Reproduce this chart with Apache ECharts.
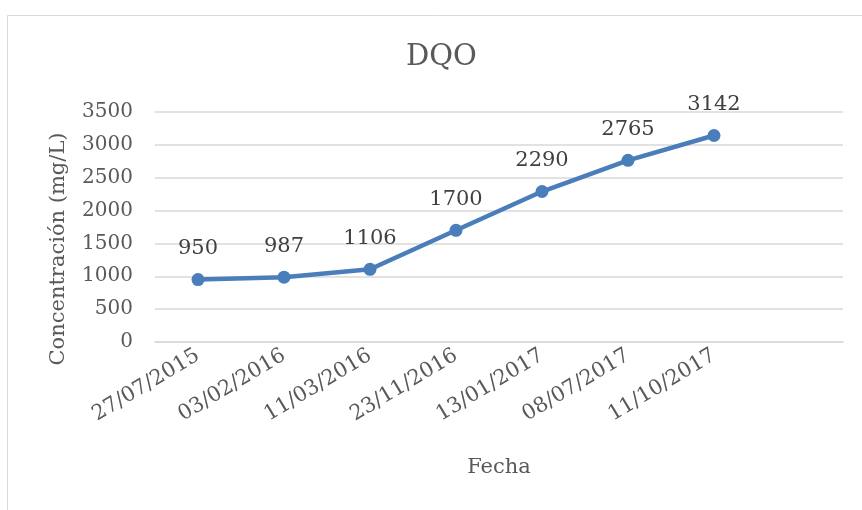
<!DOCTYPE html>
<html>
<head>
<meta charset="utf-8">
<script src="https://cdn.jsdelivr.net/npm/echarts@6/dist/echarts.min.js"></script>
<style>
  html, body { margin: 0; padding: 0; background: #fff; }
  #chart { width: 862px; height: 510px; }
</style>
</head>
<body>
<div id="chart"></div>
<script>
// fechas de muestreo (la última categoría queda vacía, como en el original)
const fechas = ['27/07/2015', '03/02/2016', '11/03/2016', '23/11/2016', '13/01/2017', '08/07/2017', '11/10/2017', '']
const dqo = [950, 987, 1106, 1700, 2290, 2765, 3142]
const yTicks = { min: 0, max: 3500, interval: 500 }

const fuente = 'DejaVu Serif'
const gris = '#595959'

const chart = echarts.init(document.getElementById('chart'))
chart.setOption({
  animation: false,
  title: {
    text: 'DQO',
    left: 401,
    top: 38,
    textStyle: { fontFamily: fuente, fontSize: 29, fontWeight: 'normal', color: gris }
  },
  graphic: [{
    type: 'rect',
    shape: { x: 7.5, y: 15.5, width: 900, height: 600 },
    style: { fill: 'none', stroke: '#d9d9d9', lineWidth: 1 }
  }],
  grid: { left: 155, right: 19, top: 112, bottom: 168 },
  xAxis: {
    type: 'category',
    data: fechas,
    name: 'Fecha',
    nameLocation: 'middle',
    nameGap: 115,
    nameTextStyle: { fontFamily: fuente, fontSize: 21, color: gris },
    axisLine: { lineStyle: { color: '#d9d9d9', width: 1.5 } },
    axisTick: { show: false },
    axisLabel: { rotate: 31, fontFamily: fuente, fontSize: 21, color: gris, margin: 12 }
  },
  yAxis: {
    type: 'value',
    min: yTicks.min,
    max: yTicks.max,
    interval: yTicks.interval,
    name: 'Concentración (mg/L)',
    nameLocation: 'middle',
    nameGap: 86,
    nameTextStyle: { fontFamily: fuente, fontSize: 21, color: gris, padding: [0, 44, 0, 0] },
    axisLine: { show: false },
    axisTick: { show: false },
    axisLabel: { fontFamily: fuente, fontSize: 20, color: gris, margin: 22, formatter: v => String(v) },
    splitLine: { lineStyle: { color: '#d9d9d9', width: 1.5 } }
  },
  series: [{
    type: 'line',
    data: dqo,
    symbol: 'circle',
    symbolSize: 13,
    itemStyle: { color: '#4a7ebb' },
    lineStyle: { color: '#4a7ebb', width: 4.5 },
    label: {
      show: true,
      position: 'top',
      distance: 14,
      fontFamily: fuente,
      fontSize: 21,
      color: '#404040'
    }
  }]
})
</script>
</body>
</html>
